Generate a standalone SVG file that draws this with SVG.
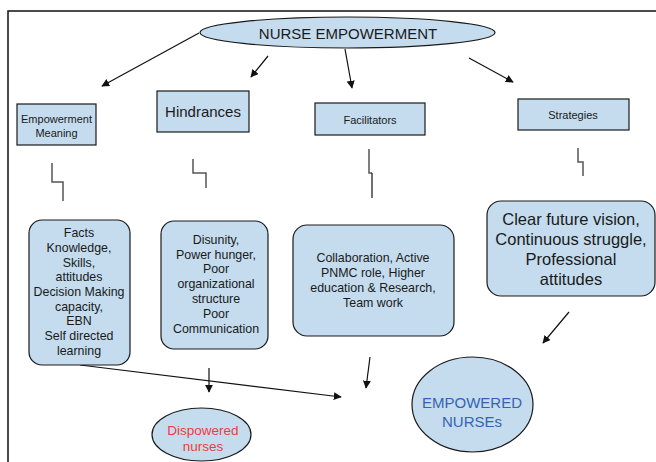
<svg xmlns="http://www.w3.org/2000/svg" width="656" height="462" viewBox="0 0 656 462">
  <style>
    text { font-family: "Liberation Sans", Arial, sans-serif; fill: #1a1a1a; text-anchor: middle; }
    .node { fill: #c4dcee; stroke: #1a1a1a; stroke-width: 1.2; }
    .edge { stroke: #111; stroke-width: 1.2; fill: none; }
    .step { stroke: #555; stroke-width: 1.5; fill: none; }
    .s11 { font-size: 11px; }
    .s12 { font-size: 12.4px; }
    .s15 { font-size: 15px; }
    .s16 { font-size: 16.5px; }
  </style>
  <defs>
    <marker id="arrow" viewBox="0 0 10 10" refX="9" refY="5" markerWidth="8" markerHeight="8" markerUnits="userSpaceOnUse" orient="auto">
      <path d="M0,0 L10,5 L0,10 z" fill="#111"/>
    </marker>
  </defs>

  <!-- page frame -->
  <rect x="8" y="11" width="680" height="480" fill="none" stroke="#111" stroke-width="1.5"/>

  <!-- connectors -->
  <g id="connectors">
    <line class="edge" x1="199" y1="33" x2="102" y2="86" marker-end="url(#arrow)"/>
    <line class="edge" x1="268" y1="56" x2="251" y2="77" marker-end="url(#arrow)"/>
    <line class="edge" x1="345" y1="49" x2="352" y2="88" marker-end="url(#arrow)"/>
    <line class="edge" x1="469" y1="58" x2="513" y2="82" marker-end="url(#arrow)"/>

    <polyline class="step" points="52,163 52,182 63,182 63,201"/>
    <polyline class="step" points="193,159 193,173 206,173 206,188"/>
    <polyline class="step" points="369,149 369,173 372,173"/>
    <line class="edge" x1="372" y1="173" x2="372" y2="198"/>
    <polyline class="step" points="578,148 578,162 583,162 583,176"/>

    <line class="edge" x1="80" y1="365" x2="341" y2="397" marker-end="url(#arrow)"/>
    <line class="edge" x1="209" y1="368" x2="209" y2="392" marker-end="url(#arrow)"/>
    <line class="edge" x1="370" y1="357" x2="366" y2="388" marker-end="url(#arrow)"/>
    <line class="edge" x1="569" y1="312" x2="543" y2="343" marker-end="url(#arrow)"/>
  </g>

  <g id="nurse-empowerment">
    <ellipse class="node" cx="347.5" cy="32.5" rx="147.5" ry="15.5"/>
    <text class="s15" x="348" y="39">NURSE EMPOWERMENT</text>
  </g>

  <g id="empowerment-meaning">
    <rect class="node" x="17" y="104" width="79" height="41"/>
    <text class="s11" x="56.5" y="123">Empowerment</text>
    <text class="s11" x="56.5" y="137">Meaning</text>
  </g>

  <g id="hindrances">
    <rect class="node" x="157" y="91" width="92" height="41"/>
    <text class="s15" x="203" y="117">Hindrances</text>
  </g>

  <g id="facilitators">
    <rect class="node" x="315" y="103" width="110" height="32"/>
    <text class="s11" x="370" y="124">Facilitators</text>
  </g>

  <g id="strategies">
    <rect class="node" x="518" y="99" width="111" height="31"/>
    <text class="s11" x="573" y="119">Strategies</text>
  </g>

  <g id="meaning-details">
    <rect class="node" x="29" y="220" width="101" height="145" rx="13"/>
    <text class="s12" x="79" y="237">Facts</text>
    <text class="s12" x="79" y="252">Knowledge,</text>
    <text class="s12" x="79" y="267">Skills,</text>
    <text class="s12" x="79" y="281">attitudes</text>
    <text class="s12" x="79" y="296">Decision Making</text>
    <text class="s12" x="79" y="311">capacity,</text>
    <text class="s12" x="79" y="325">EBN</text>
    <text class="s12" x="79" y="340">Self directed</text>
    <text class="s12" x="79" y="355">learning</text>
  </g>

  <g id="hindrance-details">
    <rect class="node" x="161" y="221" width="107" height="128" rx="13"/>
    <text class="s12" x="216" y="244">Disunity,</text>
    <text class="s12" x="216" y="259">Power hunger,</text>
    <text class="s12" x="216" y="273">Poor</text>
    <text class="s12" x="216" y="288">organizational</text>
    <text class="s12" x="216" y="303">structure</text>
    <text class="s12" x="216" y="318">Poor</text>
    <text class="s12" x="216" y="333">Communication</text>
  </g>

  <g id="facilitator-details">
    <rect class="node" x="293" y="225" width="161" height="111" rx="14"/>
    <text class="s12" x="373" y="262">Collaboration, Active</text>
    <text class="s12" x="373" y="277">PNMC role, Higher</text>
    <text class="s12" x="373" y="292">education &amp; Research,</text>
    <text class="s12" x="373" y="307">Team work</text>
  </g>

  <g id="strategy-details">
    <rect class="node" x="487" y="201" width="168" height="95" rx="14"/>
    <text class="s16" x="571" y="225">Clear future vision,</text>
    <text class="s16" x="571" y="245">Continuous struggle,</text>
    <text class="s16" x="571" y="265">Professional</text>
    <text class="s16" x="571" y="285">attitudes</text>
  </g>

  <g id="dispowered-nurses">
    <ellipse class="node" cx="201.5" cy="434.5" rx="49.5" ry="26.5"/>
    <text x="203" y="435" style="font-size:13.5px; fill:#ee3d3d">Dispowered</text>
    <text x="203" y="451" style="font-size:13.5px; fill:#ee3d3d">nurses</text>
  </g>

  <g id="empowered-nurses">
    <ellipse class="node" cx="472.5" cy="404.5" rx="60.5" ry="47.5"/>
    <text class="s15" x="472" y="408" style="fill:#3563b3">EMPOWERED</text>
    <text class="s15" x="472" y="427" style="fill:#3563b3">NURSEs</text>
  </g>
</svg>
